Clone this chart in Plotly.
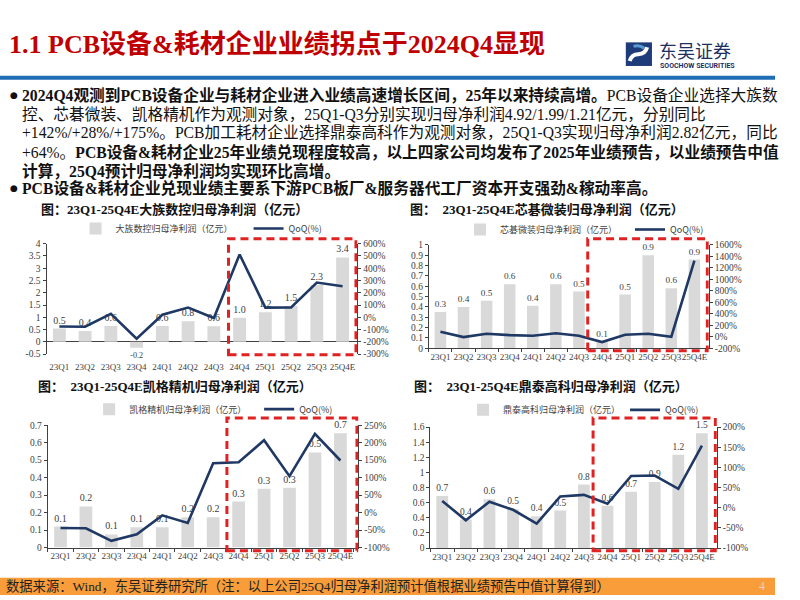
import plotly.graph_objects as go

W, H = 800, 600
def X(px): return px / W
def Y(py): return 1 - py / H

# ---------------- data ----------------
quarters = ["23Q1", "23Q2", "23Q3", "23Q4", "24Q1", "24Q2", "24Q3", "24Q4", "25Q1", "25Q2", "25Q3", "25Q4E"]

dazu_profit = [0.54, 0.44, 0.64, -0.24, 0.64, 0.84, 0.63, 0.98, 1.21, 1.46, 2.32, 3.44]
dazu_qoq = [-75, -77, 29, -174, 21, 79, -6, 512, 79, 80, 283, 253]

xinqi_profit = [0.35, 0.40, 0.46, 0.62, 0.41, 0.62, 0.549, 0.06, 0.52, 0.90, 0.58, 0.86]
xinqi_qoq = [86, -7, 51, 27, 17, 61, 17, -93, 34, 51, 0, 1326]

kaige_profit = [0.12, 0.235, 0.075, 0.116, 0.116, 0.173, 0.173, 0.263, 0.336, 0.342, 0.544, 0.654]
kaige_qoq = [-44, -45, -81, -62, -8, -30, 141, 144, 207, 104, 225, 149]

dingtai_profit = [0.69, 0.377, 0.645, 0.515, 0.42, 0.498, 0.84, 0.56, 0.745, 0.875, 1.235, 1.52]
dingtai_qoq = [17, -31, 15, -5, -39, 28, 32, 10, 79, 80, 47, 154]

bar_names = ["大族数控归母净利润（亿元）", "芯碁微装归母净利润（亿元）",
             "凯格精机归母净利润（亿元）", "鼎泰高科归母净利润（亿元）"]
chart_titles = ["图：23Q1-25Q4E大族数控归母净利润（亿元）",
                "图：\u00a0\u00a023Q1-25Q4E芯碁微装归母净利润（亿元）",
                "图：\u00a0\u00a023Q1-25Q4E凯格精机归母净利润（亿元）",
                "图：\u00a0\u00a023Q1-25Q4E鼎泰高科归母净利润（亿元）"]

left_ticks = [
    [-0.5, 0, 0.5, 1, 1.5, 2, 2.5, 3, 3.5, 4],
    [0, 0.1, 0.2, 0.3, 0.4, 0.5, 0.6, 0.7, 0.8, 0.9, 1],
    [0, 0.1, 0.2, 0.3, 0.4, 0.5, 0.6, 0.7],
    [0, 0.2, 0.4, 0.6, 0.8, 1, 1.2, 1.4, 1.6],
]
right_ticks = [
    [-300, -200, -100, 0, 100, 200, 300, 400, 500, 600],
    [-200, 0, 200, 400, 600, 800, 1000, 1200, 1400, 1600],
    [-100, -50, 0, 50, 100, 150, 200, 250],
    [-100, -50, 0, 50, 100, 150, 200],
]

# ---------------- styling ----------------
SERIF = "Liberation Serif, Noto Sans CJK SC"
CJK = "Noto Sans CJK SC, Liberation Serif"
BAR_C = "#D9D9D9"
LINE_C = "#1F3864"
RED = "#E02222"
AX_C = "#404040"

# chart geometry in pixels: (left, right, top, bottom)
geo = [
    (48, 369, 242.7, 355),
    (442.7, 731.7, 244, 349),
    (49.3, 370, 427.3, 551.7),
    (444.3, 740, 429.3, 552.3),
]
ranges_l = [[-0.5, 4], [0, 1], [0, 0.7], [0, 1.6]]
ranges_r = [[-300, 600], [-200, 1600], [-100, 250], [-100, 200]]
profits = [dazu_profit, xinqi_profit, kaige_profit, dingtai_profit]
qoqs = [dazu_qoq, xinqi_qoq, kaige_qoq, dingtai_qoq]
# red box (x0, x1 in category units; y0, y1 in domain units)
boxes = [(6.57, 11.52, -0.006, 1.045), (6.38, 11.56, -0.026, 1.06),
         (6.54, 11.65, -0.027, 1.059), (6.39, 11.57, -0.022, 1.076)]
# legend: (left px, center y px, entrywidth)
legends = [(78, 227.3, 128), (475, 228.3, 125), (92, 411, 125), (478, 411.7, 117)]
title_pos = [(40, 207.5), (421, 207.5), (37, 388), (425, 388)]
label_standoff = [6, 0, 0, 0]

fig = go.Figure()
layout = dict(width=W, height=H, autosize=False, margin=dict(l=0, r=0, t=0, b=0),
              paper_bgcolor="white", plot_bgcolor="rgba(0,0,0,0)", showlegend=True)
shapes = []
annotations = []

tickfont = dict(family=SERIF, size=9.5, color=AX_C)

for i in range(4):
    xa = "x" if i == 0 else f"x{i+1}"
    yl = "y" if i == 0 else f"y{2*i+1}"
    yr = f"y{2*i+2}"
    leg = "legend" if i == 0 else f"legend{i+1}"
    l, r, t, b = geo[i]
    vals = profits[i]
    fig.add_trace(go.Bar(
        x=quarters, y=vals, xaxis=xa, yaxis=yl, name=bar_names[i],
        marker=dict(color=BAR_C, line=dict(width=0)), width=0.5,
        text=[f"{v:.1f}" for v in vals], textposition="outside",
        textfont=dict(family=SERIF, size=10, color=AX_C), cliponaxis=False,
        legend=leg,
    ))
    fig.add_trace(go.Scatter(
        x=quarters, y=qoqs[i], xaxis=xa, yaxis=yr, name="QoQ(%)", mode="lines",
        line=dict(color=LINE_C, width=2.6), legend=leg,
    ))
    xkey = "xaxis" if i == 0 else f"xaxis{i+1}"
    ylkey = "yaxis" if i == 0 else f"yaxis{2*i+1}"
    yrkey = f"yaxis{2*i+2}"
    layout[xkey] = dict(domain=[X(l), X(r)], anchor=yl, type="category",
                        showgrid=False, zeroline=False,
                        showline=(i != 0), linecolor=AX_C, linewidth=1,
                        ticks=("" if i == 0 else "outside"), tickson="boundaries",
                        ticklen=3, tickcolor=AX_C, tickangle=0,
                        ticklabelstandoff=label_standoff[i],
                        tickfont=dict(family=SERIF, size=9, color=AX_C),
                        fixedrange=True)
    lt = left_ticks[i]
    layout[ylkey] = dict(domain=[Y(b), Y(t)], anchor=xa, range=ranges_l[i],
                         tickvals=lt, ticktext=[f"{v:g}" for v in lt],
                         showgrid=False, showline=True, linecolor=AX_C, linewidth=1,
                         ticks="outside", ticklen=3, tickcolor=AX_C,
                         zeroline=(i == 0), zerolinecolor=AX_C, zerolinewidth=1,
                         tickfont=tickfont, fixedrange=True)
    rt = right_ticks[i]
    layout[yrkey] = dict(overlaying=yl, side="right", anchor=xa, range=ranges_r[i],
                         tickvals=rt, ticktext=[f"{v}%" for v in rt],
                         showgrid=False, showline=True, linecolor=AX_C, linewidth=1,
                         ticks="outside", ticklen=3, tickcolor=AX_C, zeroline=False,
                         tickfont=tickfont, fixedrange=True)
    lx, ly, ew = legends[i]
    layout[leg] = dict(orientation="h", x=X(lx), y=Y(ly), xanchor="left", yanchor="middle",
                       font=dict(family=CJK, size=9, color="#404040"),
                       bgcolor="rgba(0,0,0,0)", entrywidth=ew, entrywidthmode="pixels",
                       itemwidth=30, tracegroupgap=0)
    bx0, bx1, by0, by1 = boxes[i]
    shapes.append(dict(type="rect", xref=xa, yref=f"{yl} domain", x0=bx0, x1=bx1, y0=by0, y1=by1,
                       line=dict(color=RED, width=3, dash="8px,5px"), fillcolor="rgba(0,0,0,0)",
                       layer="above"))
    tx, ty = title_pos[i]
    annotations.append(dict(text=f"<b>{chart_titles[i]}</b>", x=X(tx), y=Y(ty), xref="paper", yref="paper",
                            xanchor="left", yanchor="middle", showarrow=False,
                            font=dict(family=SERIF, size=13, color="#111111")))

# ---------------- page decorations ----------------
# title
annotations.append(dict(text="<b>1.1 PCB设备&amp;耗材企业业绩拐点于2024Q4显现</b>", x=X(7), y=Y(40),
                        xref="paper", yref="paper", xanchor="left", yanchor="middle", showarrow=False,
                        font=dict(family=SERIF, size=26, color="#C00000")))
# blue rule
shapes.append(dict(type="rect", xref="paper", yref="paper", x0=0, x1=1, y0=Y(76), y1=Y(72),
                   fillcolor="#1F6EB5", line=dict(width=0), layer="below"))
# logo
shapes.append(dict(type="rect", xref="paper", yref="paper", x0=X(646), x1=X(673), y0=Y(62), y1=Y(38),
                   fillcolor="#1F3C7A", line=dict(width=0)))
shapes.append(dict(type="path", xref="paper", yref="paper",
                   path=f"M {X(650)},{Y(57)} Q {X(652)},{Y(50)} {X(659)},{Y(50)} Q {X(666)},{Y(50)} {X(668)},{Y(43)}",
                   line=dict(color="white", width=4)))
shapes.append(dict(type="path", xref="paper", yref="paper",
                   path=f"M {X(654)},{Y(42)} Q {X(660)},{Y(40)} {X(665)},{Y(44)}",
                   line=dict(color="#5B9BD5", width=3)))
annotations.append(dict(text="东吴证券", x=X(679), y=Y(46), xref="paper", yref="paper",
                        xanchor="left", yanchor="middle", showarrow=False, borderpad=0,
                        font=dict(family="Noto Sans CJK SC", size=18, color="#1D2F5E")))
annotations.append(dict(text="<b>SOOCHOW SECURITIES</b>", x=X(680), y=Y(62), xref="paper", yref="paper",
                        xanchor="left", yanchor="middle", showarrow=False, borderpad=0,
                        font=dict(family="Roboto", size=7, color="#1D2F5E")))

# bullets
bullet_lines = [
    ("●", 91.5, "<b>2024Q4观测到PCB设备企业与耗材企业进入业绩高速增长区间，25年以来持续高增。</b>PCB设备企业选择大族数"),
    ("", 111, "控、芯碁微装、凯格精机作为观测对象，25Q1-Q3分别实现归母净利润4.92/1.99/1.21亿元，分别同比"),
    ("", 130, "+142%/+28%/+175%。PCB加工耗材企业选择鼎泰高科作为观测对象，25Q1-Q3实现归母净利润2.82亿元，同比"),
    ("", 149.5, "+64%。<b>PCB设备&amp;耗材企业25年业绩兑现程度较高，以上四家公司均发布了2025年业绩预告，以业绩预告中值</b>"),
    ("", 168.5, "<b>计算，25Q4预计归母净利润均实现环比高增。</b>"),
    ("●", 186.5, "<b>PCB设备&amp;耗材企业兑现业绩主要系下游PCB板厂&amp;服务器代工厂资本开支强劲&amp;稼动率高。</b>"),
]
for mark, yy, txt in bullet_lines:
    if mark:
        annotations.append(dict(text=mark, x=X(8), y=Y(yy), xref="paper", yref="paper",
                                xanchor="left", yanchor="middle", showarrow=False,
                                font=dict(family="DejaVu Sans", size=9, color="#111111")))
    annotations.append(dict(text=txt, x=X(21), y=Y(yy), xref="paper", yref="paper",
                            xanchor="left", yanchor="middle", showarrow=False,
                            font=dict(family=SERIF, size=15.7, color="#111111")))

# footer
shapes.append(dict(type="rect", xref="paper", yref="paper", x0=0, x1=1, y0=0, y1=Y(582.5),
                   fillcolor="#F89D3A", line=dict(width=0), layer="below"))
annotations.append(dict(text="数据来源：Wind，东吴证券研究所（注：以上公司25Q4归母净利润预计值根据业绩预告中值计算得到）",
                        x=X(5), y=Y(591), xref="paper", yref="paper", xanchor="left", yanchor="middle",
                        showarrow=False, borderpad=0,
                        font=dict(family=SERIF, size=13.3, color="#222222")))
annotations.append(dict(text="4", x=X(791), y=Y(591), xref="paper", yref="paper", xanchor="right",
                        yanchor="middle", showarrow=False, borderpad=0,
                        font=dict(family=SERIF, size=12, color="#E8D2B8")))

layout["shapes"] = shapes
layout["annotations"] = annotations
fig.update_layout(**layout)
fig.write_html("out.html", config={"displayModeBar": False},
               post_script="document.body.style.margin='0px';document.body.style.overflow='hidden';")
